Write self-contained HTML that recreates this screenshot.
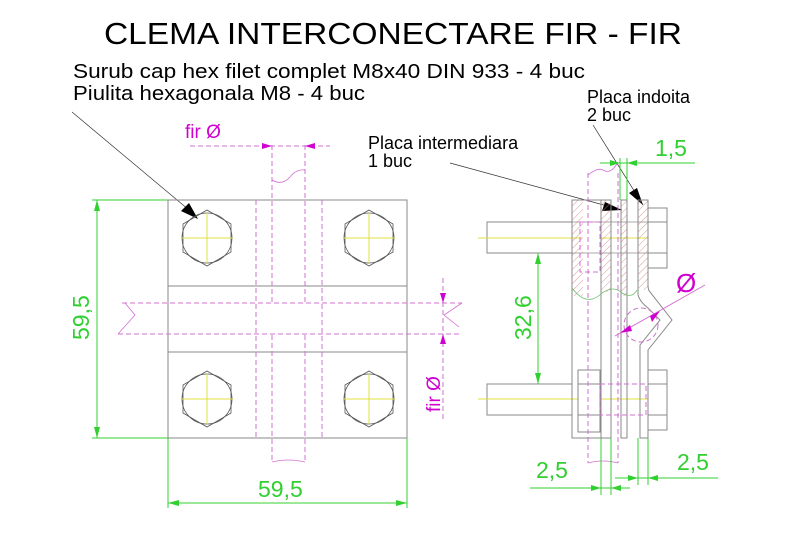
<!DOCTYPE html>
<html><head><meta charset="utf-8"><style>
html,body{margin:0;padding:0;background:#fff;}
svg{display:block;}
text{font-family:"Liberation Sans",sans-serif;}
</style></head><body>
<svg width="800" height="547" viewBox="0 0 800 547" xmlns="http://www.w3.org/2000/svg">
<defs>
<pattern id="h" width="5" height="5" patternUnits="userSpaceOnUse" patternTransform="rotate(45)"><line x1="0" y1="0" x2="0" y2="5" stroke="#d08080" stroke-width="0.8"/></pattern>
</defs>
<text x="393" y="44" font-size="31" text-anchor="middle" textLength="578" lengthAdjust="spacingAndGlyphs">CLEMA INTERCONECTARE FIR - FIR</text>
<text x="73" y="78" font-size="20" textLength="512" lengthAdjust="spacingAndGlyphs">Surub cap hex filet complet M8x40 DIN 933 - 4 buc</text>
<text x="73" y="100" font-size="20" textLength="292" lengthAdjust="spacingAndGlyphs">Piulita hexagonala M8 - 4 buc</text>
<text x="587" y="103" font-size="18">Placa indoita</text>
<text x="587" y="121" font-size="18">2 buc</text>
<text x="368" y="149" font-size="18">Placa intermediara</text>
<text x="368" y="167" font-size="18">1 buc</text>

<!-- leaders -->
<g stroke="#333" stroke-width="0.7" fill="#000">
<line x1="72" y1="112" x2="195" y2="215"/>
<polygon points="198,219 181,211 189,203" stroke="none"/>
<line x1="450" y1="163" x2="622" y2="210"/>
<polygon points="622,210 602,211 605,202" stroke="none"/>
<line x1="593" y1="125" x2="643" y2="205"/>
<polygon points="643,205 629,193 637,188" stroke="none"/>
</g>

<!-- front view -->
<g fill="none" stroke="#888" stroke-width="1">
<rect x="168" y="200" width="239" height="238"/>
<line x1="168" y1="286" x2="407" y2="286"/>
<line x1="168" y1="352" x2="407" y2="352"/>
</g>
<g fill="none" stroke="#d070d0" stroke-width="1" stroke-dasharray="5,3">
<line x1="256" y1="200" x2="256" y2="438"/>
<line x1="322" y1="200" x2="322" y2="438"/>
<line x1="272" y1="145" x2="272" y2="302"/>
<line x1="305" y1="145" x2="305" y2="302"/>
<line x1="272" y1="335" x2="272" y2="463"/>
<line x1="305" y1="335" x2="305" y2="463"/>
<line x1="122" y1="303" x2="462" y2="303"/>
<line x1="118" y1="334" x2="462" y2="334"/>
<line x1="190" y1="146" x2="330" y2="146"/>
<line x1="443" y1="278" x2="443" y2="420"/>
</g>
<g fill="none" stroke="#d070d0" stroke-width="0.8">
<path d="M272,180 q10,6 18,-3 q6,-8 15,-7"/>
<path d="M272,462 q16,-4 33,0"/>
<path d="M125,303 l10,12 l-17,19"/>
<path d="M462,303 l-18,12 l15,12"/>
</g>
<g fill="#d000d0">
<polygon points="272,146 262,143 262,149"/><polygon points="305,146 315,143 315,149"/>
<polygon points="443,303 440,293 446,293"/><polygon points="443,334 440,344 446,344"/>
</g>
<text x="185" y="138" font-size="19" fill="#d000d0">fir Ø</text>
<text transform="translate(440,412) rotate(-90)" font-size="19" fill="#d000d0">fir Ø</text>

<g fill="none" stroke="#555" stroke-width="0.8">
<g id="b"><polygon points="207,210 231,224 231,252 207,266 183,252 183,224"/><circle cx="207" cy="238" r="25"/></g>
<use href="#b" x="162"/><use href="#b" y="161"/><use href="#b" x="162" y="161"/>
</g>
<g stroke="#e0e040" stroke-width="1">
<line x1="181" y1="238" x2="233" y2="238"/><line x1="207" y1="213" x2="207" y2="263"/>
<line x1="343" y1="238" x2="395" y2="238"/><line x1="369" y1="213" x2="369" y2="263"/>
<line x1="181" y1="399" x2="233" y2="399"/><line x1="207" y1="374" x2="207" y2="424"/>
<line x1="343" y1="399" x2="395" y2="399"/><line x1="369" y1="374" x2="369" y2="424"/>
</g>

<!-- dims front -->
<g stroke="#30d030" stroke-width="1" fill="none">
<line x1="92" y1="200" x2="168" y2="200"/><line x1="92" y1="438" x2="168" y2="438"/>
<line x1="97" y1="200" x2="97" y2="438"/>
<line x1="168" y1="438" x2="168" y2="508"/><line x1="407" y1="438" x2="407" y2="508"/>
<line x1="168" y1="503" x2="407" y2="503"/>
</g>
<g fill="#30d030">
<polygon points="97,200 94,211 100,211"/><polygon points="97,438 94,427 100,427"/>
<polygon points="168,503 179,500 179,506"/><polygon points="407,503 396,500 396,506"/>
</g>
<text transform="translate(89,340) rotate(-90)" font-size="23" fill="#30d030">59,5</text>
<text x="258" y="497" font-size="23" fill="#30d030">59,5</text>

<!-- side view -->
<g fill="none" stroke="#888" stroke-width="1">
<path d="M572,222 H487 V253 H572"/>
<path d="M572,384 H487 V415 H572"/>
<line x1="572" y1="222" x2="648" y2="222" stroke="#aaa"/><line x1="572" y1="253" x2="648" y2="253" stroke="#aaa"/>
</g>
<g stroke="#e0e040" stroke-width="1">
<line x1="478" y1="238" x2="582" y2="238"/><line x1="478" y1="399" x2="582" y2="399"/>
<line x1="600" y1="238" x2="660" y2="238"/><line x1="600" y1="399" x2="660" y2="399"/>
</g>
<rect x="572" y="200" width="11" height="96" fill="url(#h)"/>
<rect x="601" y="200" width="10" height="92" fill="url(#h)"/>
<rect x="621" y="200" width="6" height="96" fill="url(#h)"/>
<rect x="638" y="200" width="10" height="90" fill="url(#h)"/>
<g fill="#fff" stroke="#888" stroke-width="1">
<rect x="648" y="208" width="19" height="60"/>
<rect x="648" y="370" width="19" height="60"/>
<rect x="578" y="370" width="22" height="62"/>
</g>
<g fill="none" stroke="#888" stroke-width="1">
<rect x="572" y="200" width="29" height="238"/>
<rect x="601" y="200" width="10" height="238"/>
<rect x="621" y="200" width="6" height="238"/>
<path d="M638,200 V295 Q640,302 648,308 L660,320 L640,345 V438 H648 V350 L672,320 L650,292 Q648,290 648,285 V200 Z"/>
<line x1="648" y1="222" x2="667" y2="222"/><line x1="648" y1="253" x2="667" y2="253"/>
<line x1="648" y1="384" x2="667" y2="384"/><line x1="648" y1="415" x2="667" y2="415"/>
<line x1="578" y1="384" x2="600" y2="384"/><line x1="578" y1="415" x2="600" y2="415"/>
</g>
<path d="M572,288 q15,20 30,5 q12,-8 20,0 q10,6 15,-3" fill="none" stroke="#70c070" stroke-width="0.8"/>
<g fill="none" stroke="#d070d0" stroke-width="1" stroke-dasharray="5,3">
<line x1="588" y1="173" x2="588" y2="463"/>
<line x1="618" y1="173" x2="618" y2="463"/>
<rect x="580" y="222" width="20" height="50"/>
<rect x="600" y="384" width="46" height="31"/>
<circle cx="641" cy="325" r="17"/>
</g>
<path d="M588,175 q10,-8 15,-5 q8,5 15,-8" fill="none" stroke="#d070d0" stroke-width="0.8"/>
<path d="M588,463 q15,-4 30,0" fill="none" stroke="#d070d0" stroke-width="0.8"/>
<line x1="615" y1="336" x2="705" y2="285" stroke="#d070d0" stroke-width="1"/>
<polygon points="620,333 630,325 632,331" fill="#d000d0"/>
<polygon points="660,311 650,316 652,322" fill="#d000d0"/>
<text x="676" y="292" font-size="26" fill="#d000d0">Ø</text>

<g stroke="#30d030" stroke-width="1" fill="none">
<line x1="538" y1="253" x2="538" y2="384"/>
<line x1="600" y1="163" x2="695" y2="163"/>
<line x1="620" y1="158" x2="620" y2="200"/><line x1="627" y1="158" x2="627" y2="200"/>
<line x1="530" y1="488" x2="630" y2="488"/>
<line x1="601" y1="438" x2="601" y2="495"/><line x1="611" y1="438" x2="611" y2="495"/>
<line x1="615" y1="478" x2="718" y2="478"/>
<line x1="638" y1="438" x2="638" y2="485"/><line x1="648" y1="438" x2="648" y2="485"/>
</g>
<g fill="#30d030">
<polygon points="538,253 535,264 541,264"/><polygon points="538,384 535,373 541,373"/>
<polygon points="620,163 610,160 610,166"/><polygon points="627,163 637,160 637,166"/>
<polygon points="601,488 591,485 591,491"/><polygon points="611,488 621,485 621,491"/>
<polygon points="638,478 628,475 628,481"/><polygon points="648,478 658,475 658,481"/>
</g>
<text transform="translate(531,340) rotate(-90)" font-size="23" fill="#30d030">32,6</text>
<text x="655" y="156" font-size="23" fill="#30d030">1,5</text>
<text x="536" y="478" font-size="23" fill="#30d030">2,5</text>
<text x="677" y="470" font-size="23" fill="#30d030">2,5</text>
</svg>
</body></html>
